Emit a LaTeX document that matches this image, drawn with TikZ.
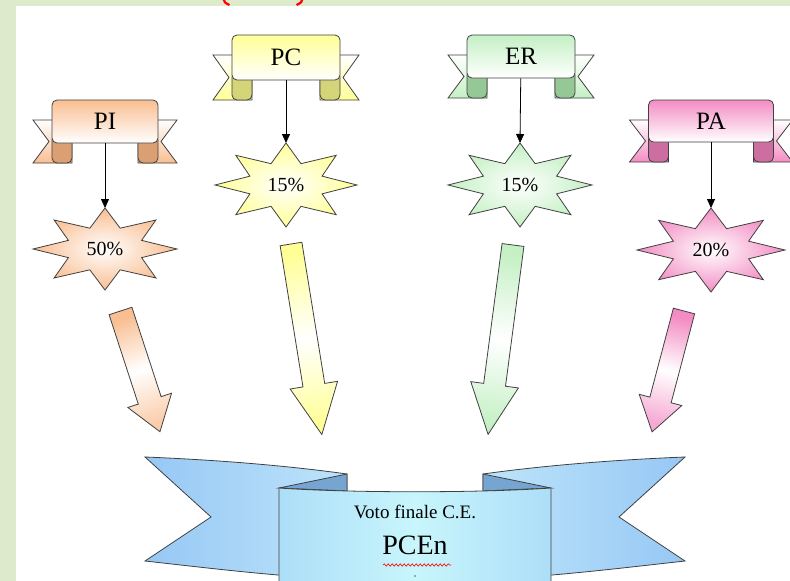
\documentclass[tikz,border=0pt]{standalone}
\usepackage{fontspec}
\setmainfont{Liberation Serif}
\usetikzlibrary{arrows.meta,decorations.pathmorphing}
\definecolor{bgGreen}{RGB}{221,235,204}
\definecolor{cOr}{RGB}{249,190,145}
\definecolor{cOrD}{RGB}{218,160,115}
\definecolor{cYe}{RGB}{255,255,150}
\definecolor{cYeD}{RGB}{212,212,120}
\definecolor{cGr}{RGB}{196,240,196}
\definecolor{cGrD}{RGB}{150,200,150}
\definecolor{cPk}{RGB}{243,140,195}
\definecolor{cPkD}{RGB}{205,110,160}
\definecolor{bOut}{RGB}{150,200,245}
\definecolor{bIn}{RGB}{190,228,250}
\definecolor{bFr}{RGB}{172,222,248}
\definecolor{bFrM}{RGB}{200,246,252}
\definecolor{bFold}{RGB}{118,165,210}
\tikzset{
  ribline/.style={draw=black!75, line width=0.8pt},
  ribfront/.style={ribline, rounded corners=5pt, inner sep=0pt,
    font=\fontsize{25}{28}\selectfont},
  pct/.style={inner sep=0pt, font=\fontsize{20}{24}\selectfont},
  conn/.style={draw=black, line width=0.8pt, -{Triangle[length=9pt,width=8pt]}},
}
\newcommand\smallrib[8]{%
  \pgfmathsetmacro\rxl{#2-#4/2}%
  \pgfmathsetmacro\rxr{#2+#4/2}%
  \pgfmathsetmacro\rtt{#3+20}%
  \pgfmathsetmacro\rtb{#3+#5+20}%
  \pgfmathsetmacro\rtm{#3+20+#5/2}%
  \pgfmathsetmacro\rfb{#3+#5}%
  \draw[ribline, top color=white, bottom color=#6]
    (\rxl-19,\rtt) -- (\rxl+20,\rtt) -- (\rxl+20,\rtb) -- (\rxl-19,\rtb) -- (\rxl-3,\rtm) -- cycle;
  \draw[ribline, top color=white, bottom color=#6]
    (\rxr+19,\rtt) -- (\rxr-20,\rtt) -- (\rxr-20,\rtb) -- (\rxr+19,\rtb) -- (\rxr+3,\rtm) -- cycle;
  \draw[ribline, fill=#7, rounded corners=5pt]
    (\rxl,\rfb-8) -- (\rxl,\rtb) -- (\rxl+20,\rtb) -- (\rxl+20,\rfb-8) -- cycle;
  \draw[ribline, fill=#7, rounded corners=5pt]
    (\rxr,\rfb-8) -- (\rxr,\rtb) -- (\rxr-20,\rtb) -- (\rxr-20,\rfb-8) -- cycle;
  \node[ribfront, minimum width=#4 pt, minimum height=#5 pt, top color=#6, bottom color=white]
    (#1) at (#2,#3+#5/2) {#8};
}
\newcommand\starb[7]{%
  \draw[ribline, inner color=white, outer color=#6]
    plot[samples at={0,...,15}, variable=\t]
    ({#2+#4*(0.775+0.225*cos(180*\t))*cos(90+22.5*\t)},
     {#3-#5*(0.775+0.225*cos(180*\t))*sin(90+22.5*\t)}) -- cycle;
  \node[pct] (#1) at (#2,#3) {#7};
  \coordinate (#1top) at (#2,#3-#5);
}
% block arrow: #1 x, #2 y (tail centre), #3 angle, #4 length, #5 shaft w, #6 head w, #7 head len, #8 colour, #9 tip colour
\newcommand\barrow[9]{%
  \pgfmathsetmacro\shang{#3+90}%
  \begin{scope}[shift={(#1,#2)}, rotate=#3]
    \draw[ribline, top color=#8, bottom color=#9, middle color=white, shading angle=\shang]
      (0,-#5/2) -- (#4-#7,-#5/2) -- (#4-#7,-#6/2) -- (#4,0) -- (#4-#7,#6/2)
      -- (#4-#7,#5/2) -- (0,#5/2) -- cycle;
  \end{scope}%
}
\begin{document}
\begin{tikzpicture}[x=1pt,y=-1pt]
\useasboundingbox (0,0) rectangle (790,581);
\fill[bgGreen] (0,0) rectangle (790,581);
\fill[white] (16,6) rectangle (790,581);
\draw[red, line width=2.2pt] (223.5,-1) .. controls (224.5,2.5) .. (229.5,5);
\draw[red, line width=2.2pt] (302.5,-1) .. controls (301.5,2.5) .. (296.5,5);
\begin{scope}
\clip (16,6) rectangle (790,581);
% small ribbons
\smallrib{PI}{105}{100}{106}{43}{cOr}{cOrD}{PI}
\smallrib{PC}{286}{35}{108}{45}{cYe}{cYeD}{PC}
\smallrib{ER}{521}{35}{108}{43}{cGr}{cGrD}{ER}
\smallrib{PA}{711}{100}{125}{42}{cPk}{cPkD}{PA}
% stars
\starb{s1}{105}{249}{72}{41}{cOr}{50\%}
\starb{s2}{286}{185}{71}{42}{cYe}{15\%}
\starb{s3}{520}{185}{72}{42}{cGr}{15\%}
\starb{s4}{711}{250}{74}{42}{cPk}{20\%}
% connectors
\draw[conn] (PI) -- (s1top);
\draw[conn] (PC) -- (s2top);
\draw[conn] (ER) -- (s3top);
\draw[conn] (PA) -- (s4top);
% big arrows
\barrow{120.5}{311}{-71.9}{127}{24}{46}{33}{cOr}{cOr!75}
\barrow{291}{244}{-80.8}{193}{22}{48}{50}{cYe}{cYe}
\barrow{513}{245}{-97.5}{191}{22}{48}{50}{cGr}{cGr}
\barrow{684}{311}{-104.8}{125}{22}{44}{33}{cPk}{cPk!75}
% bottom ribbon
\draw[ribline, left color=bOut, right color=bIn]
  (145,457) .. controls (220,460) and (290,466) .. (347,474) -- (347,590) -- (290,576)
  .. controls (240,572) and (190,566) .. (145,561) -- (211,517) -- cycle;
\draw[ribline, left color=bIn, right color=bOut]
  (685,457) .. controls (610,460) and (540,466) .. (483,474) -- (483,590) -- (540,576)
  .. controls (590,572) and (640,566) .. (685,561) -- (619,517) -- cycle;
\draw[ribline, fill=bFold] (279,488) -- (347,474) -- (347,491) -- cycle;
\draw[ribline, fill=bFold] (551,488) -- (483,474) -- (483,491) -- cycle;
\draw[ribline, left color=bFr, right color=bFr, middle color=bFrM]
  (279,590) -- (279,488) .. controls (350,493) and (480,493) .. (551,488) -- (551,590) -- cycle;
\node[font=\fontsize{19}{22}\selectfont, inner sep=0pt] (voto) at (415,512) {Voto finale C.E.};
\node[font=\fontsize{28}{32}\selectfont, inner sep=0pt] (pcen) at (415,545) {PCEn};
\draw[red, line width=0.6pt, decorate, decoration={snake, amplitude=1.2pt, segment length=4pt}]
  (383,565) -- (451,565);
\fill[black!60] (415,576) circle (0.8);
\end{scope}
\end{tikzpicture}
\end{document}
